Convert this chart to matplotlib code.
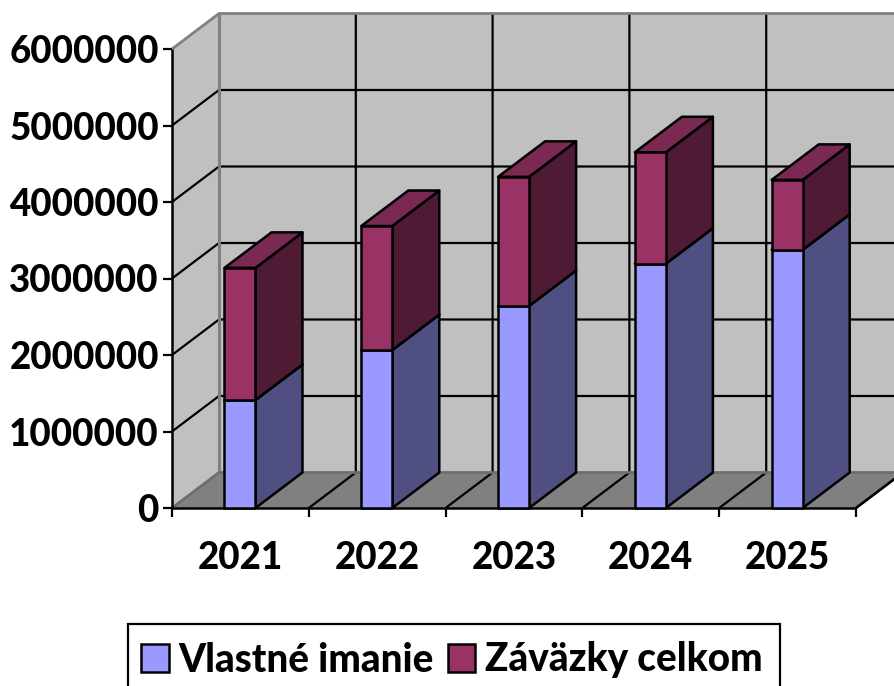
import matplotlib
matplotlib.use("Agg")
import matplotlib.pyplot as plt
from matplotlib.patches import Polygon, Patch, Rectangle

years = ["2021", "2022", "2023", "2024", "2025"]
equity = [1412000, 2065000, 2642000, 3194000, 3375000]
liabilities = [1727000, 1621000, 1687000, 1456000, 914000]
series_names = ["Vlastné imanie", "Záväzky celkom"]
y_ticks = [0, 1000000, 2000000, 3000000, 4000000, 5000000, 6000000]

plt.rcParams["font.family"] = ["Lato", "DejaVu Sans"]
WEIGHT = 900
plt.rcParams["font.weight"] = WEIGHT

W, H = 895, 686
fig = plt.figure(figsize=(W / 100, H / 100), dpi=100)
ax = fig.add_axes([172 / W, (H - 508) / H, 684 / W, 459 / H])
ax.set_xlim(0, 5)
ax.set_ylim(0, 6000000)

DX = 47 / (684 / 5)
DY = 35.5 / (459 / 6000000)
BAR_W = 31 / (684 / 5)
GRAY = "#808080"


def poly(pts, fc, ec="black", lw=1.8, z=1):
    ax.add_patch(Polygon(pts, closed=True, facecolor=fc, edgecolor=ec,
                         linewidth=lw, zorder=z, clip_on=False, joinstyle="round"))


def line(xs, ys, z=2, lw=1.6, color="black"):
    ax.plot(xs, ys, color=color, lw=lw, zorder=z, clip_on=False,
            solid_capstyle="butt")


ymax = y_ticks[-1]
n = len(years)
# walls and floor
poly([(DX, DY), (n + DX, DY), (n + DX, ymax + DY), (DX, ymax + DY)], "#c0c0c0", ec="none")
poly([(0, 0), (DX, DY), (DX, ymax + DY), (0, ymax)], "#c0c0c0", ec="none")
poly([(0, 0), (n, 0), (n + DX, DY), (DX, DY)], GRAY, ec="none")

# gridlines
for t in y_ticks[1:-1]:
    line([0, DX, n + DX], [t, t + DY, t + DY])
for i in range(1, n + 1):
    line([i, i + DX, i + DX], [0, DY, ymax + DY])

# wall edges
line([DX, DX], [DY, ymax + DY], lw=2.2, color=GRAY, z=2.5)
line([0, DX, n + DX], [ymax, ymax + DY, ymax + DY], lw=2.0, color=GRAY, z=2.5)
line([0, DX, n + DX], [0, DY, DY], lw=2.0, color="#6e6e6e", z=2.5)
line([n, n + DX], [0, DY], lw=1.8, z=2.6)

# axes
line([0, 0], [0, ymax], z=3, lw=1.8)
line([0, n], [0, 0], z=3, lw=1.8)

# bars
colors = [("#9999ff", "#4f4f82", "#4f4f82"), ("#993366", "#4f1b34", "#7a2952")]
for i, (a, b) in enumerate(zip(equity, liabilities)):
    x0 = i + 0.5 - BAR_W / 2 - 0.003
    x1 = x0 + BAR_W
    base = 0
    for v, (front, side, top) in zip((a, b), colors):
        t = base + v
        poly([(x1, base), (x1 + DX, base + DY), (x1 + DX, t + DY), (x1, t)], side, z=5)
        poly([(x0, t), (x1, t), (x1 + DX, t + DY), (x0 + DX, t + DY)], top, z=5)
        poly([(x0, base), (x1, base), (x1, t), (x0, t)], front, z=6)
        base = t

ax.set_xticks(range(n + 1))
ax.set_xticklabels([""] * (n + 1))
ax.set_yticks(y_ticks)
ax.set_yticklabels([str(t) for t in y_ticks], fontsize=26.5, fontweight=WEIGHT)
ax.tick_params(axis="both", length=6.5, width=1.6, color="black", pad=3)
for s in ax.spines.values():
    s.set_visible(False)
ax.patch.set_visible(False)
for i, y in enumerate(years):
    ax.annotate(y, xy=(i + 0.5, 0), xytext=(0, -50), textcoords="offset pixels",
                ha="center", va="center", fontsize=26.5, fontweight=WEIGHT,
                annotation_clip=False)

handles = [Patch(facecolor=colors[0][0], edgecolor="black", linewidth=1.8),
           Patch(facecolor=colors[1][0], edgecolor="black", linewidth=1.8)]
leg = fig.legend(handles, series_names, ncol=2, loc="center",
                 bbox_to_anchor=(452 / W, (H - 660) / H), fontsize=27.8,
                 frameon=False,
                 handlelength=0.72, handleheight=0.72, handletextpad=0.25,
                 columnspacing=0.35, borderpad=0.3, borderaxespad=0)
fig.add_artist(Rectangle((128 / W, -10 / H), 652 / W, (H - 624 + 10) / H,
                         transform=fig.transFigure, facecolor="white",
                         edgecolor="black", linewidth=1.6, zorder=0.5))

fig.savefig("out.png", dpi=100)
